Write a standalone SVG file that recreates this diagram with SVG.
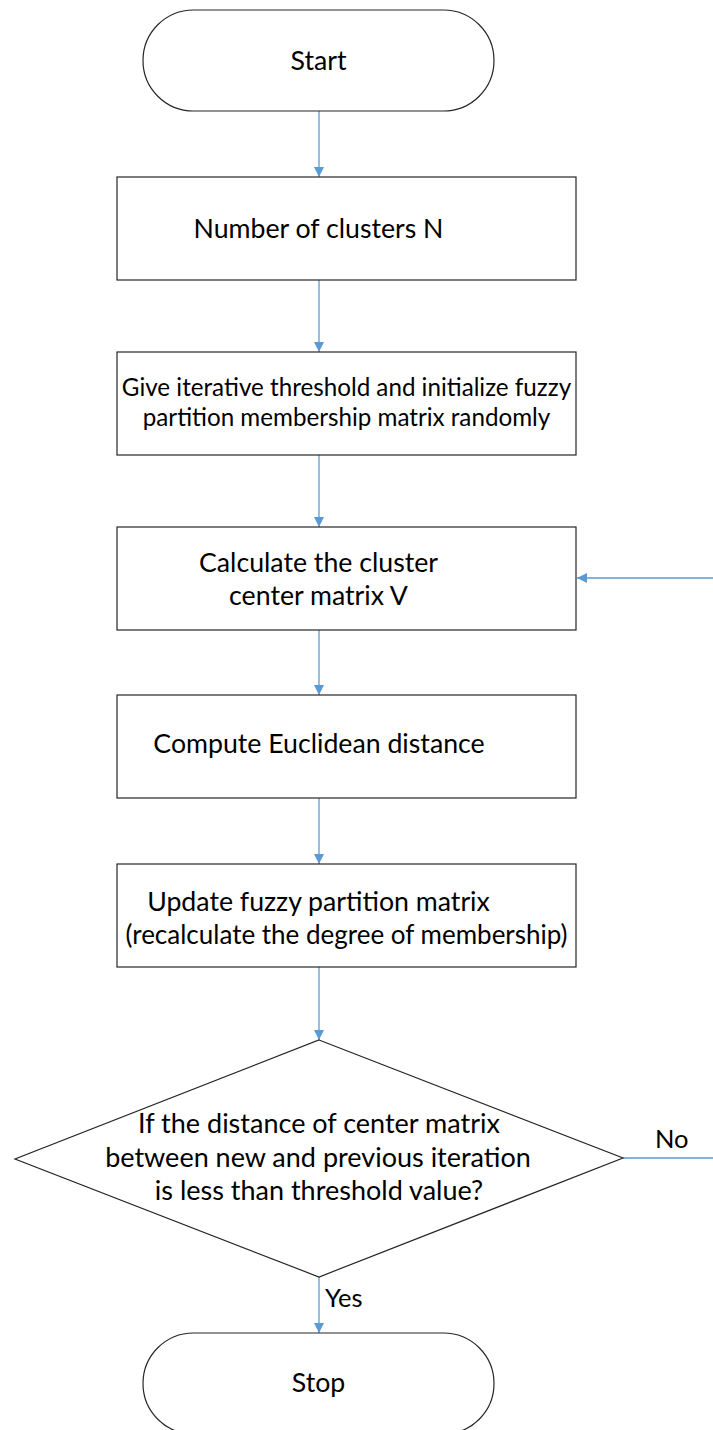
<svg xmlns="http://www.w3.org/2000/svg" width="713" height="1430" viewBox="0 0 713 1430">
<style>
.shape{fill:#fff;stroke:#262626;stroke-width:1.2}
.conn{fill:none;stroke:#5b9bd5;stroke-width:1.3}
text{font-family:Lato,"Open Sans","Liberation Sans",sans-serif;font-size:26.7px;fill:#000;text-anchor:middle}
.lbl{text-anchor:start;font-size:25.5px}
.small{font-size:24.2px}
.dia{font-size:27px}
</style>
<defs>
<marker id="ah" viewBox="0 0 10 10" refX="10" refY="5" markerWidth="10" markerHeight="10" markerUnits="userSpaceOnUse" orient="auto">
<path d="M0,0 L10,5 L0,10 Z" fill="#5b9bd5"/>
</marker>
</defs>
<rect width="713" height="1430" fill="#fff"/>
<g id="connectors">
<line class="conn" x1="319" y1="111" x2="319" y2="177" marker-end="url(#ah)"/>
<line class="conn" x1="319" y1="280" x2="319" y2="352" marker-end="url(#ah)"/>
<line class="conn" x1="319" y1="455" x2="319" y2="527" marker-end="url(#ah)"/>
<line class="conn" x1="319" y1="630" x2="319" y2="695" marker-end="url(#ah)"/>
<line class="conn" x1="319" y1="798" x2="319" y2="864" marker-end="url(#ah)"/>
<line class="conn" x1="319" y1="967" x2="319" y2="1040" marker-end="url(#ah)"/>
<line class="conn" x1="319" y1="1277" x2="319" y2="1333" marker-end="url(#ah)"/>
<path class="conn" d="M623,1158 H720 V578 H577" marker-end="url(#ah)"/>
<text class="lbl" x="655" y="1148">No</text>
<text class="lbl" x="325" y="1307">Yes</text>
</g>
<g id="start">
<rect class="shape" x="143" y="10" width="351" height="101" rx="50.5" ry="50.5"/>
<text x="318.5" y="70">Start</text>
</g>
<g id="n1">
<rect class="shape" x="117" y="177" width="459" height="103"/>
<text x="318.5" y="238">Number of clusters N</text>
</g>
<g id="n2">
<rect class="shape" x="117" y="352" width="459" height="103"/>
<text class="small" x="346.5" y="396">Give iterative threshold and initialize fuzzy</text>
<text class="small" x="346.5" y="426">partition membership matrix randomly</text>
</g>
<g id="n3">
<rect class="shape" x="117" y="527" width="459" height="103"/>
<text x="318.5" y="572">Calculate the cluster</text>
<text x="318.5" y="605">center matrix V</text>
</g>
<g id="n4">
<rect class="shape" x="117" y="695" width="459" height="103"/>
<text x="319" y="753">Compute Euclidean distance</text>
</g>
<g id="n5">
<rect class="shape" x="117" y="864" width="459" height="103"/>
<text x="318.5" y="911">Update fuzzy partition matrix</text>
<text x="346.5" y="944" style="font-size:26px">(recalculate the degree of membership)</text>
</g>
<g id="decision">
<polygon class="shape" points="319,1040 623,1158 319,1277 15,1159"/>
<text class="dia" x="319" y="1133">If the distance of center matrix</text>
<text class="dia" x="318" y="1167">between new and previous iteration</text>
<text class="dia" x="319" y="1200">is less than threshold value?</text>
</g>
<g id="stop">
<rect class="shape" x="143" y="1333" width="351" height="101" rx="50.5" ry="50.5"/>
<text x="318.5" y="1392">Stop</text>
</g>
</svg>
